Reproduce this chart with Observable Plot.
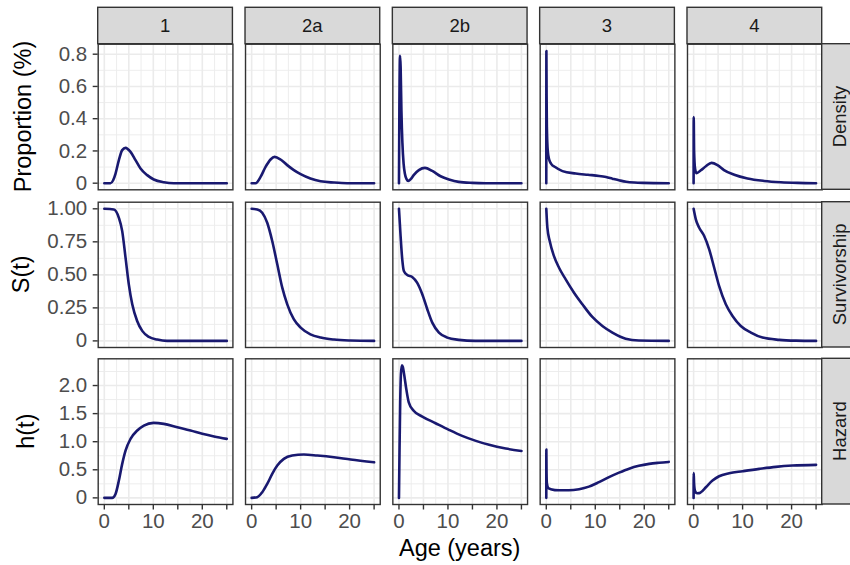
<!DOCTYPE html>
<html><head><meta charset="utf-8">
<script src="https://cdn.jsdelivr.net/npm/d3@7"></script>
<script src="https://cdn.jsdelivr.net/npm/@observablehq/plot@0.6"></script>
<style>
body{margin:0;background:#fff;}
#chart{position:relative;width:850px;height:565px;overflow:hidden;font-family:"Liberation Sans",Arial,sans-serif;background:#fff;}
#chart svg{position:absolute;left:0;}
#chart svg.rowplot text{font-size:20.5px;}
</style></head>
<body><div id="chart"></div>
<script>
// ---- categories & labels ----
const groups = ["1", "2a", "2b", "3", "4"];
const rowKeys = ["Density", "Survivorship", "Hazard"];
const yTitles = ["Proportion (%)", "S(t)", "h(t)"];
const xTitle = "Age (years)";
const xTicks = [0, 5, 10, 15, 20, 25];
const xTickLabels = ["0", "", "10", "", "20", ""];
const xMinor = [2.5, 7.5, 12.5, 17.5, 22.5];
const densityTicks = [0, 0.2, 0.4, 0.6, 0.8];
const densityTickLabels = ["0", "0.2", "0.4", "0.6", "0.8"];
const densityMinor = [0.1, 0.3, 0.5, 0.7];
const survTicks = [0, 0.25, 0.5, 0.75, 1];
const survTickLabels = ["0", "0.25", "0.50", "0.75", "1.00"];
const survMinor = [0.125, 0.375, 0.625, 0.875];
const hazTicks = [0, 0.5, 1, 1.5, 2];
const hazTickLabels = ["0", "0.5", "1.0", "1.5", "2.0"];
const hazMinor = [0.25, 0.75, 1.25, 1.75, 2.25];

// ---- series: [age, value] ----
const density_1 = [[0,0],[1.27,0],[1.8,0.018],[2.29,0.06],[2.97,0.143],[3.65,0.205],[4.33,0.219],[5.35,0.194],[6.37,0.143],[7.39,0.091],[8.75,0.05],[10.1,0.023],[12.15,0.006],[14.2,0],[25,0]];
const density_2a = [[0,0],[0.8,0],[1.82,0.039],[2.84,0.101],[3.86,0.147],[4.68,0.163],[5.9,0.147],[7.26,0.112],[8.62,0.081],[10.0,0.056],[12.0,0.029],[14.07,0.012],[16.8,0.004],[19.5,0],[25,0]];
const density_2b = [[0,0],[0.08,0.45],[0.22,0.79],[0.34,0.72],[0.5,0.45],[0.7,0.25],[0.95,0.12],[1.2,0.06],[1.55,0.025],[1.9,0.014],[2.4,0.025],[3.0,0.05],[4.06,0.081],[5.3,0.095],[6.8,0.076],[8.5,0.043],[10.2,0.023],[12.2,0.008],[14.96,0.002],[17.7,0],[25,0]];
const density_3 = [[0,0],[0.02,0.82],[0.06,0.55],[0.12,0.35],[0.3,0.2],[0.6,0.145],[1.0,0.12],[1.8,0.1],[3.3,0.075],[6.0,0.06],[8.5,0.052],[10.8,0.045],[12.2,0.038],[13.5,0.028],[15.0,0.017],[16.3,0.009],[18.0,0.004],[19.7,0.002],[25,0]];
const density_4 = [[0,0],[0.02,0.41],[0.1,0.2],[0.3,0.09],[0.6,0.062],[1.47,0.08],[2.5,0.105],[3.65,0.126],[4.88,0.112],[6.2,0.081],[8.3,0.052],[11.0,0.029],[14.4,0.014],[17.8,0.006],[21.2,0.002],[25,0]];

const surv_1 = [[0,1],[1.94,0.995],[2.97,0.932],[3.65,0.831],[4.33,0.63],[5.0,0.428],[5.7,0.277],[6.7,0.151],[7.74,0.076],[9.1,0.03],[10.8,0.01],[12.8,0],[25,0]];
const surv_2a = [[0,1],[1.14,0.995],[2.16,0.97],[3.18,0.894],[4.2,0.756],[5.23,0.58],[6.25,0.403],[7.27,0.277],[8.6,0.164],[10,0.101],[12,0.05],[14.1,0.025],[16.8,0.01],[20.2,0.003],[25,0]];
const surv_2b = [[0,1],[0.33,0.794],[0.67,0.617],[1.0,0.529],[1.7,0.499],[2.7,0.484],[3.7,0.441],[4.76,0.353],[5.78,0.24],[6.8,0.138],[8.16,0.063],[9.86,0.025],[12.2,0.008],[15.6,0],[25,0]];
const surv_3 = [[0,1],[0.22,0.857],[0.7,0.756],[1.57,0.642],[2.6,0.554],[3.96,0.466],[5.66,0.365],[7.37,0.277],[9.4,0.181],[11.45,0.113],[13.5,0.063],[16.2,0.017],[18.9,0.003],[25,0]];
const surv_4 = [[0,1],[0.45,0.92],[1.14,0.857],[2.16,0.794],[3.18,0.693],[4.2,0.554],[5.2,0.416],[6.57,0.277],[7.94,0.189],[9.63,0.113],[11.7,0.063],[14.07,0.025],[17.5,0.008],[20.9,0.002],[25,0]];

const hazard_1 = [[0,0],[1.6,0],[2.29,0.071],[2.97,0.308],[3.65,0.605],[4.33,0.842],[5.35,1.05],[6.72,1.199],[8.07,1.288],[10.05,1.336],[12.15,1.318],[14.9,1.257],[17.6,1.199],[20.0,1.14],[22.4,1.092],[25,1.05]];
const hazard_2a = [[0,0],[1.14,0.012],[2.16,0.1],[3.18,0.249],[4.2,0.427],[5.23,0.575],[6.57,0.694],[8.28,0.753],[10.66,0.771],[13.4,0.753],[16.8,0.723],[20.2,0.682],[25,0.634]];
const hazard_2b = [[0,0],[0.12,0.9],[0.25,1.7],[0.4,2.2],[0.6,2.36],[0.8,2.33],[1.0,2.23],[1.5,1.934],[2.0,1.7],[3.0,1.55],[4.76,1.448],[7.47,1.329],[10.2,1.211],[12.9,1.104],[15.7,1.015],[18.4,0.944],[21.8,0.878],[25,0.835]];
const hazard_3 = [[0,0],[0.01,0.86],[0.05,0.45],[0.12,0.26],[0.4,0.175],[0.9,0.155],[2.6,0.135],[4.6,0.135],[6.7,0.155],[8.7,0.2],[10.76,0.28],[12.8,0.37],[14.85,0.45],[16.9,0.52],[18.9,0.57],[21,0.605],[23,0.625],[25,0.64]];
const hazard_4 = [[0,0],[0.02,0.44],[0.1,0.25],[0.3,0.12],[0.7,0.082],[1.1,0.085],[1.47,0.1],[2.5,0.189],[3.86,0.308],[5.2,0.385],[7.25,0.438],[10,0.474],[13.4,0.516],[16.8,0.552],[20.2,0.575],[25,0.588]];

// ---- build tables ----
function table(seriesList) {
  const out = [];
  groups.forEach((g, i) => seriesList[i].forEach(([t, v]) => out.push({g, t, v})));
  return out;
}
const rowData = [
  table([density_1, density_2a, density_2b, density_3, density_4]),
  table([surv_1, surv_2a, surv_2b, surv_3, surv_4]),
  table([hazard_1, hazard_2a, hazard_2b, hazard_3, hazard_4])
];
const rowTicks = [densityTicks, survTicks, hazTicks];
const rowTickLabels = [densityTickLabels, survTickLabels, hazTickLabels];
const rowMinor = [densityMinor, survMinor, hazMinor];

// ---- layout ----
const W = 850, ML = 97.7, MR = 28.3;
const layout = [
  {top: 0, height: 195, mt: 43.7, mb: 5.7, domain: [-0.041, 0.862]},
  {top: 195, height: 155, mt: 6.7, mb: 3, domain: [-0.05, 1.05]},
  {top: 350, height: 215, mt: 8.3, mb: 61, domain: [-0.118, 2.476]}
];
const FONT = '"Liberation Sans", Arial, sans-serif';
const GRID = "#EBEBEB", DARK = "#333333", AXTXT = "#4D4D4D", LINE = "#191970";

const chart = document.getElementById("chart");
let fxScale = null;
layout.forEach((L, r) => {
  const ticks = rowTicks[r], labels = rowTickLabels[r];
  const marks = [
    Plot.gridX({ticks: xMinor, stroke: GRID, strokeOpacity: 1, strokeWidth: 0.9}),
    Plot.gridY({ticks: rowMinor[r], stroke: GRID, strokeOpacity: 1, strokeWidth: 0.9}),
    Plot.gridX({ticks: xTicks, stroke: GRID, strokeOpacity: 1, strokeWidth: 1.6}),
    Plot.gridY({ticks: ticks, stroke: GRID, strokeOpacity: 1, strokeWidth: 1.6}),
    Plot.line(rowData[r], {x: "t", y: "v", fx: "g", stroke: LINE, strokeWidth: 2.6, curve: "monotone-x"}),
    Plot.frame({stroke: DARK, strokeWidth: 1.4}),
    Plot.axisY({ticks, tickFormat: d => labels[ticks.indexOf(d)], tickSize: 5, tickPadding: 6,
      stroke: DARK, fill: AXTXT, strokeWidth: 1.4, fontSize: 20.5, label: null, facetAnchor: "left"})
  ];
  if (r === 2) {
    marks.push(Plot.axisX({ticks: xTicks, tickFormat: d => xTickLabels[xTicks.indexOf(d)], tickSize: 5.5,
      tickPadding: 3, stroke: DARK, fill: AXTXT, strokeWidth: 1.4, fontSize: 20.5, label: null, facetAnchor: "bottom"}));
  }
  const p = Plot.plot({
    width: W, height: L.height, marginTop: L.mt, marginBottom: L.mb, marginLeft: ML, marginRight: MR,
    className: "rowplot",
    x: {domain: [-1.25, 26.25], axis: null},
    y: {domain: L.domain, axis: null},
    fx: {domain: groups, paddingInner: 0.0856, paddingOuter: 0, round: false, axis: null},
    style: {fontFamily: FONT, fontSize: "20.5px", background: "transparent", overflow: "visible"},
    marks
  });
  p.classList.add("rowplot");
  p.style.top = L.top + "px";
  chart.appendChild(p);
  if (r === 0) fxScale = p.scale("fx");
});

// ---- strips & titles overlay ----
const svg = d3.select(chart).append("svg").attr("width", W).attr("height", 565).style("top", "0px")
  .style("font-family", FONT);
const SW = 36.4, STRIP = "#D9D9D9", STXT = "#1A1A1A";
groups.forEach(g => {
  const x0 = fxScale.apply(g), bw = fxScale.bandwidth;
  svg.append("rect").attr("x", x0).attr("y", 7.3).attr("width", bw).attr("height", SW)
    .attr("fill", STRIP).attr("stroke", DARK).attr("stroke-width", 1.4);
  svg.append("text").attr("x", x0 + bw / 2).attr("y", 7.3 + SW / 2).attr("dy", "0.35em")
    .attr("text-anchor", "middle").attr("font-size", 18.5).attr("fill", STXT).text(g);
});
const rightX = ML + (W - ML - MR);
const titleX = [30.5, 28.8, 34];
layout.forEach((L, r) => {
  const y0 = L.top + L.mt, y1 = L.top + L.height - L.mb;
  svg.append("rect").attr("x", rightX).attr("y", y0).attr("width", SW).attr("height", y1 - y0)
    .attr("fill", STRIP).attr("stroke", DARK).attr("stroke-width", 1.4);
  svg.append("text").attr("transform", `translate(${rightX + SW / 2},${(y0 + y1) / 2}) rotate(-90)`)
    .attr("dy", "0.35em").attr("text-anchor", "middle").attr("font-size", 18.5).attr("fill", STXT).text(rowKeys[r]);
  svg.append("text").attr("transform", `translate(${titleX[r]},${(y0 + y1) / 2}) rotate(-90)`)
    .attr("text-anchor", "middle").attr("font-size", 23.5).attr("fill", "#000").text(yTitles[r]);
});
svg.append("text").attr("x", (ML + W - MR) / 2).attr("y", 555.5).attr("text-anchor", "middle")
  .attr("font-size", 23.5).attr("fill", "#000").text(xTitle);
</script>
</body></html>
